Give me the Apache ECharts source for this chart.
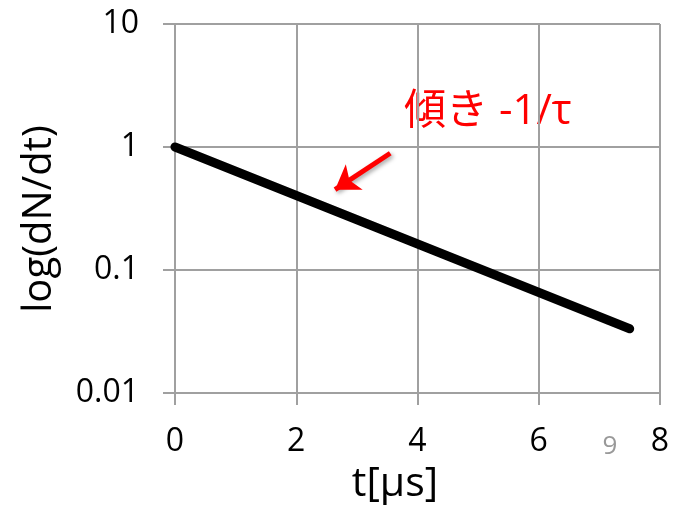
<!DOCTYPE html>
<html>
<head>
<meta charset="utf-8">
<script src="https://cdn.jsdelivr.net/npm/echarts@6/dist/echarts.min.js"></script>
<style>
  html, body { margin: 0; padding: 0; background: #fff; }
  #main { width: 681px; height: 505px; }
</style>
</head>
<body>
<div id="main"></div>
<script>
// 時間 t [µs] と dN/dt (対数で直線)
const tValues = [0, 7.5]
const rateValues = [1, 0.0333]
const xTicks = [0, 2, 4, 6, 8]
const yTicks = [0.01, 0.1, 1, 10]
// 矢印の始点・終点 (データ座標)
const arrowFrom = [3.55, 0.89]
const arrowTo = [2.64, 0.45]

const font = "'Open Sans', 'Noto Sans CJK JP', sans-serif"
const gridColor = '#a0a0a0'

var chart = echarts.init(document.getElementById('main'))
chart.setOption({
  animation: false,
  grid: { left: 175, right: 21, top: 24, bottom: 112 },
  xAxis: {
    type: 'value',
    min: xTicks[0],
    max: xTicks[xTicks.length - 1],
    interval: 2,
    axisLine: { show: true, lineStyle: { color: gridColor, width: 2 } },
    axisTick: { show: true, length: 12, lineStyle: { color: gridColor, width: 2 } },
    splitLine: { show: true, lineStyle: { color: gridColor, width: 2 } },
    axisLabel: { fontSize: 32, color: '#000', fontFamily: font, margin: 33 }
  },
  yAxis: {
    type: 'log',
    logBase: 10,
    min: yTicks[0],
    max: yTicks[yTicks.length - 1],
    axisLine: { show: true, onZero: false, lineStyle: { color: gridColor, width: 2 } },
    axisTick: { show: true, length: 12, lineStyle: { color: gridColor, width: 2 } },
    splitLine: { show: true, lineStyle: { color: gridColor, width: 2 } },
    axisLabel: {
      fontSize: 32, color: '#000', fontFamily: font, margin: 36,
      formatter: function (v) { return String(+v.toPrecision(3)) }
    }
  },
  graphic: [
    { type: 'text', left: 404, top: 91,
      style: { text: '傾き -1/τ', fill: '#ff0000', font: '42px ' + font } },
    { type: 'text', x: 40, y: 219, rotation: Math.PI / 2,
      style: { text: 'log(dN/dt)', fill: '#000', font: '40px ' + font, align: 'center', verticalAlign: 'middle' } },
    { type: 'text', x: 395, y: 484,
      style: { text: 't[µs]', fill: '#000', font: '41px ' + font, align: 'center', verticalAlign: 'middle' } },
    { type: 'text', x: 610, y: 447,
      style: { text: '9', fill: '#999', font: '26px ' + font, align: 'center', verticalAlign: 'middle' } }
  ],
  series: [
    {
      type: 'line',
      data: tValues.map((t, i) => [t, rateValues[i]]),
      showSymbol: false,
      lineStyle: { color: '#000', width: 9, cap: 'round' },
      markLine: {
        silent: true,
        symbol: ['none', 'arrow'],
        symbolSize: 23,
        label: { show: false },
        lineStyle: {
          color: '#ff0000', width: 5, type: 'solid',
          shadowColor: 'rgba(0,0,0,0.35)', shadowBlur: 4, shadowOffsetX: 2, shadowOffsetY: 2
        },
        data: [[{ coord: arrowFrom }, { coord: arrowTo }]]
      }
    }
  ]
})
</script>
</body>
</html>
